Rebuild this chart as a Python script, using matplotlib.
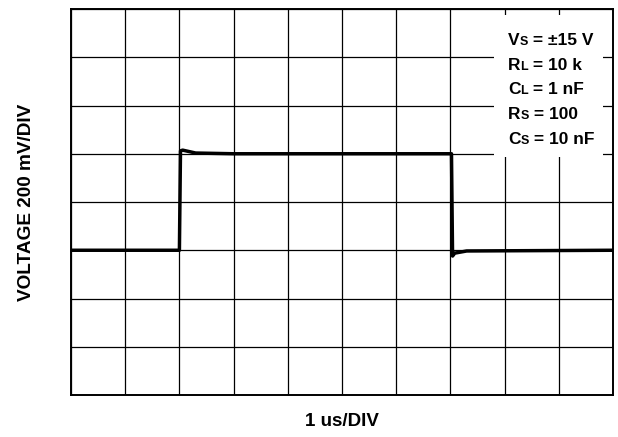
import numpy as np
import matplotlib
matplotlib.use("Agg")
import matplotlib.pyplot as plt
from matplotlib.patches import Rectangle

plt.rcParams['font.family'] = ['Liberation Sans', 'DejaVu Sans']
plt.rcParams['font.weight'] = 'bold'

# scope trace: time in us, voltage in V (200 mV/div, 1 us/div)
time_us = [0.0, 2.00, 2.02, 2.06, 2.30, 3.00, 5.00, 7.02, 7.04, 7.08, 7.30, 10.0]
volts = [0.0, 0.0, 0.412, 0.415, 0.403, 0.400, 0.400, 0.400, -0.024, -0.012, -0.003, 0.0]

# test conditions: (main letters, subscript, rest)
conditions = [
    ("V", "S", " = \u00b115 V"),
    ("R", "L", " = 10 k"),
    ("C", "L", " = 1 nF"),
    ("R", "S", " = 100"),
    ("C", "S", " = 10 nF"),
]

fig = plt.figure(figsize=(6.18, 4.37), dpi=100)
ax = fig.add_axes([0.1149, 0.0961, 0.877, 0.8833])

ax.set_xlim(0, 10)
ax.set_ylim(-0.6, 1.0)
ax.set_xticks(np.arange(0, 11, 1))
ax.set_yticks(np.arange(-0.6, 1.01, 0.2))
ax.tick_params(length=0, labelbottom=False, labelleft=False)
ax.grid(True, color='black', linewidth=0.9)
for s in ax.spines.values():
    s.set_linewidth(1.4)

ax.plot(time_us, volts, color='black', linewidth=2.5, zorder=3)

# white panel behind the condition list
ax.add_patch(Rectangle((0.780, 0.617), 0.2015, 0.367, transform=ax.transAxes,
                       facecolor='white', edgecolor='none', zorder=2.5))

y0 = 0.9067
dy = 0.0640
for i, (main, sub, rest) in enumerate(conditions):
    y = y0 - i * dy
    t1 = ax.text(0.806, y, main, transform=ax.transAxes, fontsize=12.5,
                 fontweight='bold', va='baseline', ha='left', zorder=4)
    t2 = ax.annotate(sub, xy=(1, y), xycoords=(t1, 'axes fraction'),
                     fontsize=9, fontweight='bold', va='baseline', ha='left', zorder=4)
    ax.annotate(rest, xy=(1, y), xycoords=(t2, 'axes fraction'),
                fontsize=12.5, fontweight='bold', va='baseline', ha='left', zorder=4)

ax.set_ylabel("VOLTAGE 200 mV/DIV", fontsize=13.7, fontweight='bold', labelpad=26)
ax.set_xlabel("1 us/DIV", fontsize=13.5, fontweight='bold', labelpad=13)

fig.savefig("out.png", dpi=100)
